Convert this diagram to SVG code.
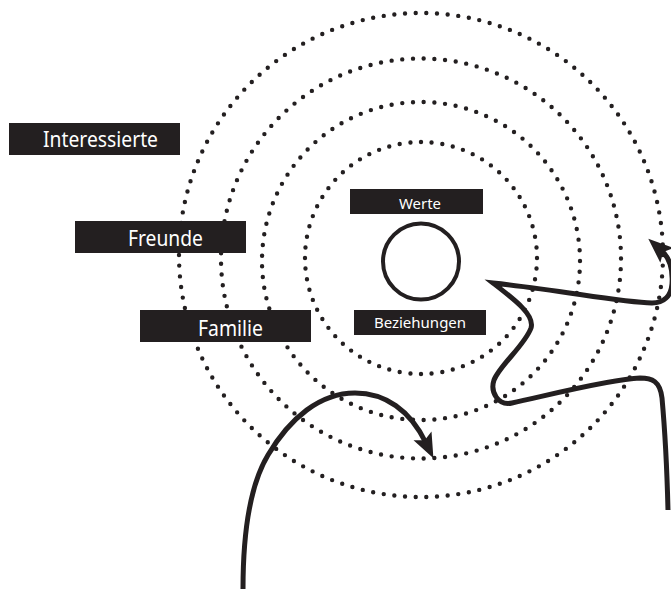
<svg xmlns="http://www.w3.org/2000/svg" width="671" height="589" viewBox="0 0 671 589">
<style>
.ring{fill:none;stroke:#231f20;stroke-width:4.4;stroke-linecap:round;stroke-dasharray:0 1}
.box{fill:#231f20}
.lbl{fill:#ffffff;font-family:"Noto Sans","DejaVu Sans",sans-serif}
.big{font-size:21px}
.small{font-size:15px}
.conn{fill:none;stroke:#231f20;stroke-width:5;stroke-linejoin:miter;stroke-linecap:butt}
</style>
<defs>
<marker id="ah" markerUnits="userSpaceOnUse" viewBox="-25 -20 50 40" markerWidth="50" markerHeight="40" refX="0" refY="0" orient="auto" overflow="visible">
<path d="M17,0 L-8,-10 L-3,0 L-8,10 Z" fill="#231f20"/>
</marker>
</defs>
<rect width="671" height="589" fill="#ffffff"/>
<g id="rings">
<circle class="ring" cx="421" cy="255" r="242" pathLength="142"/>
<circle class="ring" cx="421" cy="258.5" r="200" pathLength="117"/>
<circle class="ring" cx="421" cy="261" r="159" pathLength="93"/>
<circle class="ring" cx="421" cy="258" r="116" pathLength="68"/>
</g>
<g id="center">
<circle cx="421" cy="261.5" r="38" fill="none" stroke="#231f20" stroke-width="4"/>
</g>
<g id="interessierte">
<rect class="box" x="9" y="123" width="171" height="32"/>
<text class="lbl big" x="43" y="147" textLength="115" lengthAdjust="spacingAndGlyphs">Interessierte</text>
</g>
<g id="freunde">
<rect class="box" x="75" y="221" width="171" height="32"/>
<text class="lbl big" x="128" y="246" textLength="75" lengthAdjust="spacingAndGlyphs">Freunde</text>
</g>
<g id="familie">
<rect class="box" x="140" y="310" width="171" height="32"/>
<text class="lbl big" x="198" y="336" textLength="65" lengthAdjust="spacingAndGlyphs">Familie</text>
</g>
<g id="werte">
<rect class="box" x="350" y="189" width="133" height="25"/>
<text class="lbl small" x="399" y="209" textLength="42" lengthAdjust="spacingAndGlyphs">Werte</text>
</g>
<g id="beziehungen">
<rect class="box" x="354" y="310" width="132" height="25"/>
<text class="lbl small" x="420" y="328" text-anchor="middle">Beziehungen</text>
</g>
<g id="connectors">
<path class="conn" marker-end="url(#ah)" d="M243,589 C243,530 250,485 268,455 C290,418 320,393 355,393 C385,393 410,410 426,443"/>
<path class="conn" marker-end="url(#ah)" d="M668,510 C667,470 664,420 662,398 C660,381 652,378 640,378 C610,379 545,396 512,403 C498,406 490,392 494,380 C500,365 525,345 531,328 C535,315 515,300 493,283 C560,290 620,302 652,303 C664,303 671,296 672,284 C673,270 670,258 661,250"/>
</g>
</svg>
